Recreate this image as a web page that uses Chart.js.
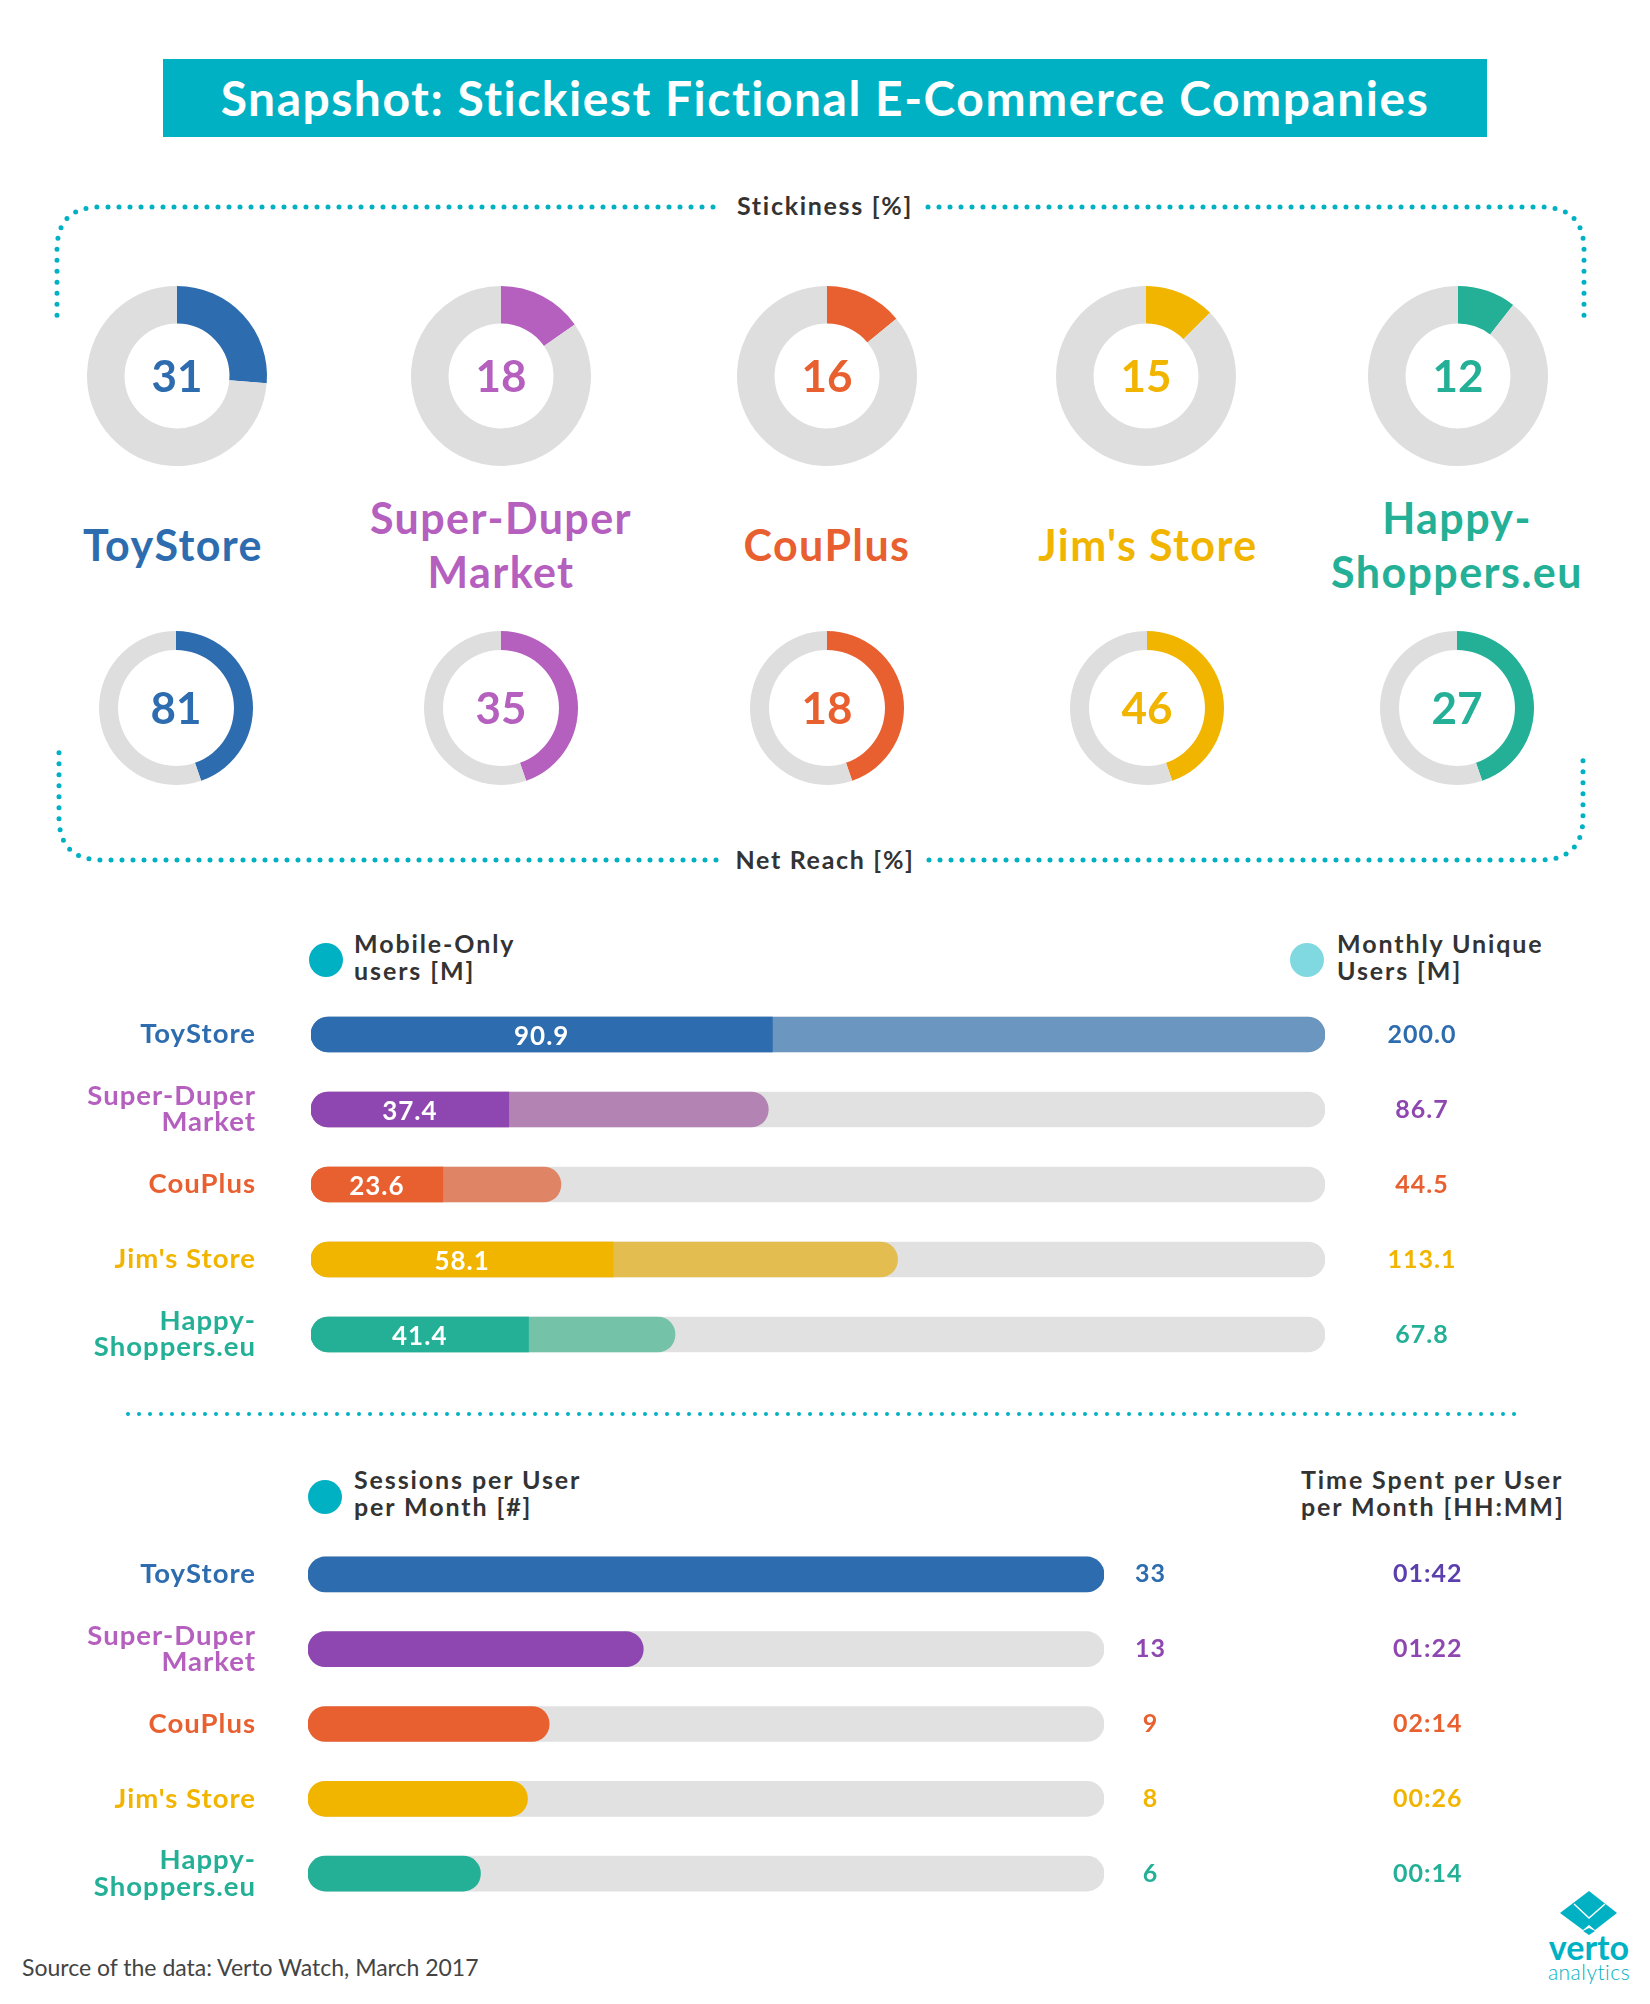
<!DOCTYPE html>
<html lang="en">
<head>
<meta charset="UTF-8">
<title>Snapshot: Stickiest Fictional E-Commerce Companies</title>
<script src="https://cdn.jsdelivr.net/npm/chart.js@4"></script>
<style>
    body { margin: 0; background: #fff; font-family: Lato, sans-serif; font-weight: 700; }
    #page { position: relative; width: 1650px; height: 2004px; overflow: hidden; }
    #page canvas { position: absolute; }
    .txt { position: absolute; white-space: nowrap; }
    .title { left: 163px; top: 59px; width: 1324px; height: 78px; line-height: 78px; background: #00b1c3; color: #fff; font-size: 48px; text-align: center; letter-spacing: 1.5px; }
    .sect { width: 300px; text-align: center; font-size: 25px; color: #333; letter-spacing: 1.7px; line-height: 30px; }
    .name { width: 340px; text-align: center; font-size: 43px; line-height: 54px; letter-spacing: 1.4px; }
    .head { font-size: 25px; line-height: 27px; color: #333; letter-spacing: 1.9px; }
    .dot { position: absolute; width: 34px; height: 34px; border-radius: 50%; }
</style>
</head>
<body>
<div id="page">
    <svg width="1650" height="2004" style="position:absolute;left:0;top:0">
        <g fill="none" stroke="#00b1c3" stroke-width="5" stroke-linecap="round" stroke-dasharray="0 11">
            <path d="M713 207 H100 Q57 207 57 250 V317"/>
            <path d="M928 207 H1541 Q1584 207 1584 250 V317"/>
            <path d="M716 860 H102 Q59 860 59 817 V750"/>
            <path d="M929 860 H1540 Q1583 860 1583 817 V750"/>
            <path d="M128 1414 H1518" stroke-width="4"/>
        </g>
        <polygon fill="#00b1c3" points="1589,1891 1617,1913 1595,1930 1589,1925 1583,1930 1560,1913"/>
        <polygon fill="#00b1c3" points="1589,1928 1595,1931 1589,1935 1583,1931"/>
        <polyline fill="none" stroke="#fff" stroke-width="1.5" points="1574,1904 1589,1918 1605,1904"/>
    </svg>

    <div class="txt title">Snapshot: Stickiest Fictional E-Commerce Companies</div>
    <div class="txt sect" style="left:675px;top:190px">Stickiness [%]</div>
    <div class="txt sect" style="left:675px;top:844px">Net Reach [%]</div>

    <div class="dot" style="left:309px;top:943px;background:#00b1c3"></div>
    <div class="txt head" style="left:354px;top:930px">Mobile-Only<br>users [M]</div>
    <div class="dot" style="left:1290px;top:943px;background:#80d8e1"></div>
    <div class="txt head" style="left:1337px;top:930px">Monthly Unique<br>Users [M]</div>

    <div class="dot" style="left:308px;top:1480px;background:#00b1c3"></div>
    <div class="txt head" style="left:354px;top:1466px">Sessions per User<br>per Month [#]</div>
    <div class="txt head" style="left:1301px;top:1466px">Time Spent per User<br>per Month [HH:MM]</div>

    <div class="txt" style="left:22px;top:1953px;font-size:23px;font-weight:400;color:#444">Source of the data: Verto Watch, March 2017</div>
    <div class="txt" style="left:1489px;top:1927px;width:200px;text-align:center;font-size:34px;line-height:40px;color:#00b1c3">verto</div>
    <div class="txt" style="left:1489px;top:1960px;width:200px;text-align:center;font-size:21px;line-height:24px;font-weight:300;color:#00b1c3;letter-spacing:0.5px">analytics</div>
</div>

<script>
    const rowLabels = ['ToyStore', ['Super-Duper', 'Market'], 'CouPlus', "Jim's Store", ['Happy-', 'Shoppers.eu']];

    // numbers printed on the doughnuts, and how much of each ring is actually coloured in the picture
    const stickinessLabels = ['31', '18', '16', '15', '12'];
    const stickinessArc = [26.3, 15.3, 14, 12.6, 10.5];
    const netReachLabels = ['81', '35', '18', '46', '27'];
    const netReachArc = [44.7, 44.7, 44.7, 44.7, 44.7];

    // printed labels, and bar lengths as measured in the picture (they do not quite follow the labels)
    const mobileLabels = ['90.9', '37.4', '23.6', '58.1', '41.4'];
    const mobileLengths = [91, 39, 26, 59.6, 42.9];
    const monthlyLabels = ['200.0', '86.7', '44.5', '113.1', '67.8'];
    const monthlyLengths = [200, 90.2, 49.3, 115.7, 71.8];
    const sessionLabels = ['33', '13', '9', '8', '6'];
    const sessionLengths = [33, 13.9, 10, 9.1, 7.15];
    const timeLabels = ['01:42', '01:22', '02:14', '00:26', '00:14'];

    const nameColors = ['#2d6cae', '#b55fbf', '#e96030', '#f1b500', '#23b096'];
    const barColors = ['#2d6cae', '#8e47b0', '#e96030', '#f1b500', '#23b096'];
    const lightColors = ['#6b96c0', '#b384b3', '#df8565', '#e3bd50', '#74c2a8'];
    const timeColors = ['#5b3fae', '#8e47b0', '#e96030', '#f1b500', '#23b096'];

    const page = document.getElementById('page');
    const TRACK = '#e1e1e1';
    const RING = '#dedede';

    function addCanvas(left, top, width, height) {
        const c = document.createElement('canvas');
        c.width = width;
        c.height = height;
        c.style.left = left + 'px';
        c.style.top = top + 'px';
        c.style.width = width + 'px';
        c.style.height = height + 'px';
        page.appendChild(c);
        return c;
    }

    function drawDonut(cx, cy, radius, cutout, arc, label, color, fontSize) {
        const size = radius * 2 + 10;
        const canvas = addCanvas(cx - size / 2, cy - size / 2, size, size);
        new Chart(canvas, {
            type: 'doughnut',
            data: {
                datasets: [{
                    data: [arc, 100 - arc],
                    backgroundColor: [color, RING],
                    borderWidth: 0
                }]
            },
            options: {
                responsive: false,
                animation: false,
                events: [],
                radius: radius,
                cutout: cutout,
                plugins: { legend: { display: false }, tooltip: { enabled: false } }
            },
            plugins: [{
                id: 'centerValue',
                afterDraw(chart) {
                    const el = chart.getDatasetMeta(0).data[0];
                    const ctx = chart.ctx;
                    ctx.save();
                    ctx.font = '700 ' + fontSize + 'px Lato';
                    ctx.fillStyle = color;
                    ctx.textAlign = 'center';
                    ctx.textBaseline = 'middle';
                    ctx.fillText(label, el.x, el.y + 2);
                    ctx.restore();
                }
            }]
        });
    }

    const stickyX = [177, 501, 827, 1146, 1458];
    const reachX = [176, 501, 827, 1147, 1457];
    stickinessArc.forEach((arc, i) => {
        drawDonut(stickyX[i], 376, 90, '58.3%', arc, stickinessLabels[i], nameColors[i], 44);
    });
    netReachArc.forEach((arc, i) => {
        drawDonut(reachX[i], 708, 77, '75.3%', arc, netReachLabels[i], nameColors[i], 44);
    });

    // big company names between the two rows of doughnuts
    const nameX = [173, 501, 827, 1148, 1457];
    rowLabels.forEach((label, i) => {
        const lines = Array.isArray(label) ? label : [label];
        const d = document.createElement('div');
        d.className = 'txt name';
        d.style.left = (nameX[i] - 170) + 'px';
        d.style.top = (545 - lines.length * 27) + 'px';
        d.style.color = nameColors[i];
        d.innerHTML = lines.join('<br>');
        page.appendChild(d);
    });

    const fullRadius = 17.5;
    const rowFont = { size: 27.5, weight: '700', family: 'Lato', lineHeight: 0.95 };
    const valueFont = { size: 25, weight: '700', family: 'Lato' };

    // Lato runs narrower than the reference lettering, so open up all text on the bar charts
    const spacedText = {
        id: 'spacedText',
        beforeDraw(chart) { chart.ctx.letterSpacing = '1px'; }
    };

    function hiddenAxis(extra) {
        return Object.assign({
            type: 'category',
            offset: true,
            grid: { display: false, drawTicks: false },
            border: { display: false }
        }, extra);
    }

    function sideAxis(width, weight, labels, colors, padding, align) {
        return hiddenAxis({
            position: 'right',
            weight: weight,
            labels: labels,
            afterFit(s) { s.width = width; s.paddingTop = 0; s.paddingBottom = 0; },
            ticks: {
                autoSkip: false,
                padding: padding,
                crossAlign: align,
                font: valueFont,
                color: c => colors[c.index]
            }
        });
    }

    function rowAxis(width) {
        return hiddenAxis({
            position: 'left',
            afterFit(s) { s.width = width; s.paddingTop = 0; s.paddingBottom = 0; },
            ticks: {
                autoSkip: false,
                padding: width - 256,
                font: rowFont,
                color: c => nameColors[c.index]
            }
        });
    }

    // Mobile-only over monthly unique users
    new Chart(addCanvas(0, 997, 1650, 375), {
        type: 'bar',
        data: {
            labels: rowLabels,
            datasets: [
                {
                    data: mobileLengths,
                    backgroundColor: barColors,
                    borderSkipped: false,
                    borderRadius: { topLeft: fullRadius, bottomLeft: fullRadius }
                },
                {
                    data: monthlyLengths,
                    backgroundColor: lightColors,
                    borderSkipped: false,
                    borderRadius: fullRadius
                },
                {
                    data: rowLabels.map(() => 200),
                    backgroundColor: TRACK,
                    borderSkipped: false,
                    borderRadius: fullRadius
                }
            ]
        },
        options: {
            responsive: false,
            animation: false,
            events: [],
            indexAxis: 'y',
            datasets: { bar: { grouped: false, barThickness: 35 } },
            scales: {
                x: { display: false, min: 0, max: 200 },
                y: rowAxis(311),
                y2: sideAxis(325, 1, monthlyLabels, barColors, 65, 'center')
            },
            plugins: { legend: { display: false }, tooltip: { enabled: false } }
        },
        plugins: [spacedText, {
            id: 'insideLabels',
            afterDatasetsDraw(chart) {
                const ctx = chart.ctx;
                ctx.save();
                ctx.font = '700 26px Lato';
                ctx.fillStyle = '#fff';
                ctx.textAlign = 'center';
                ctx.textBaseline = 'middle';
                chart.getDatasetMeta(0).data.forEach((bar, i) => {
                    ctx.fillText(mobileLabels[i], (bar.x + bar.base) / 2, bar.y + 2);
                });
                ctx.restore();
            }
        }]
    });

    // Sessions per user
    new Chart(addCanvas(0, 1537, 1650, 374), {
        type: 'bar',
        data: {
            labels: rowLabels,
            datasets: [
                {
                    data: sessionLengths,
                    backgroundColor: barColors,
                    borderSkipped: false,
                    borderRadius: fullRadius
                },
                {
                    data: rowLabels.map(() => 33),
                    backgroundColor: TRACK,
                    borderSkipped: false,
                    borderRadius: fullRadius
                }
            ]
        },
        options: {
            responsive: false,
            animation: false,
            events: [],
            indexAxis: 'y',
            datasets: { bar: { grouped: false, barThickness: 35 } },
            scales: {
                x: { display: false, min: 0, max: 33 },
                y: rowAxis(308),
                y2: sideAxis(289, 1, sessionLabels, barColors, 32, 'center'),
                y3: sideAxis(257, 2, timeLabels, timeColors, 0, 'near')
            },
            plugins: { legend: { display: false }, tooltip: { enabled: false } }
        },
        plugins: [spacedText]
    });
</script>
</body>
</html>
